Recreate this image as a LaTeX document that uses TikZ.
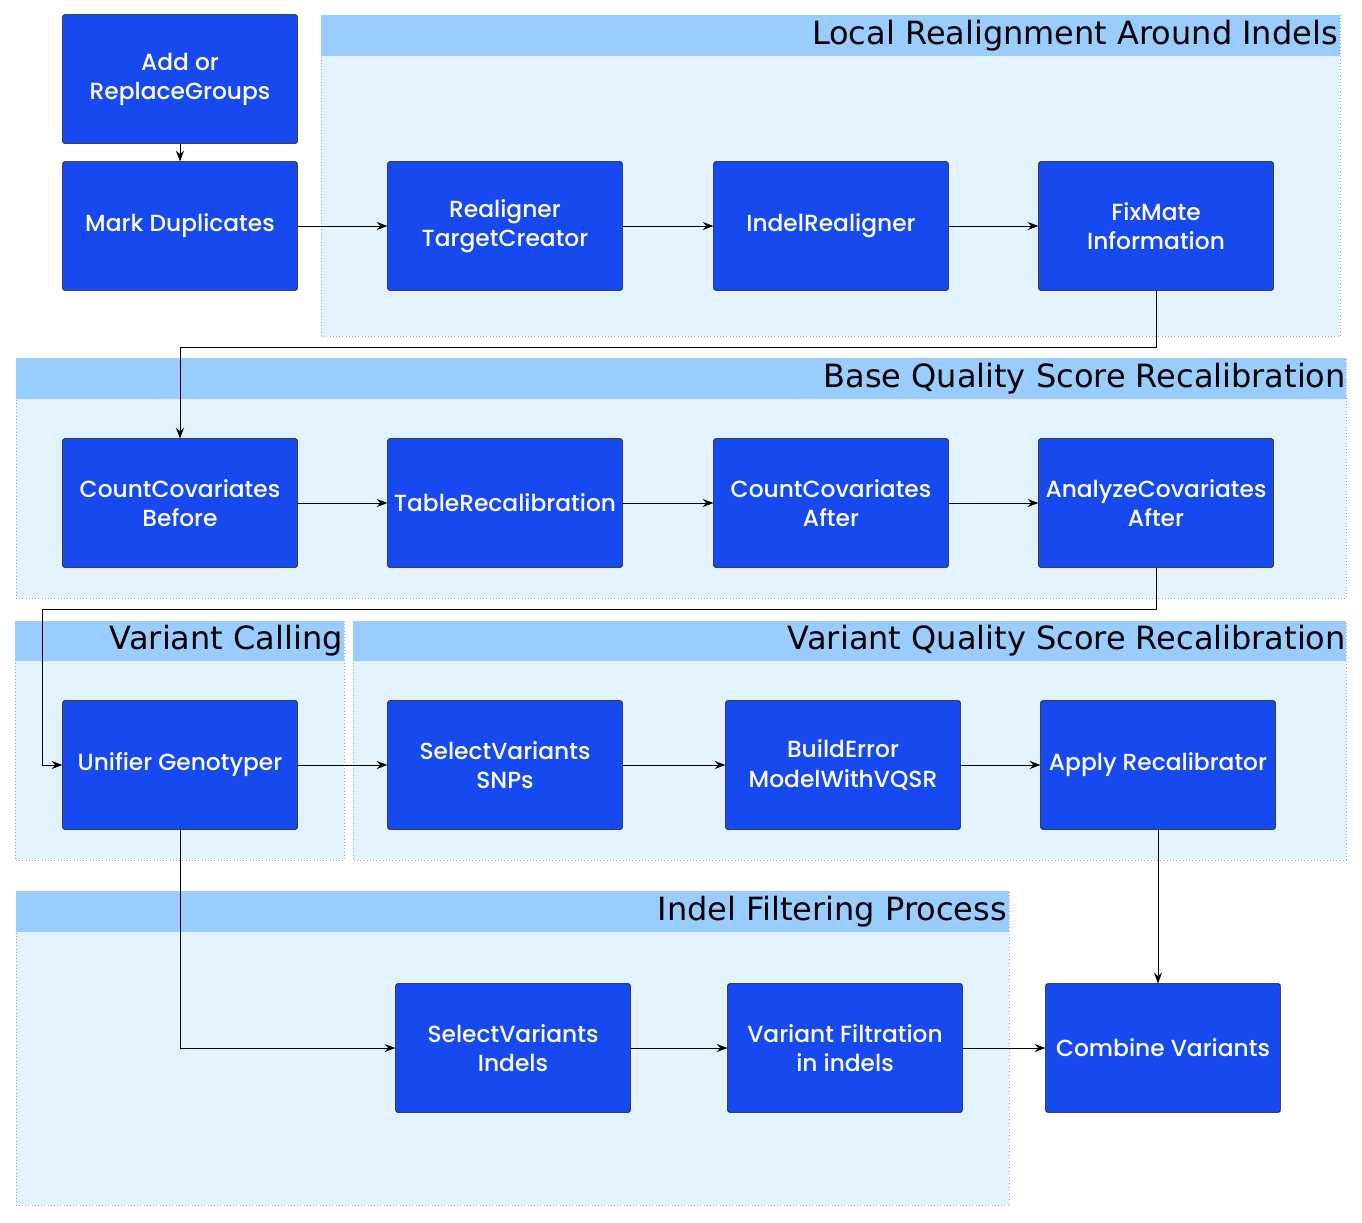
\documentclass[tikz,border=0pt]{standalone}
\usepackage{fontspec}
\setmainfont{Poppins}[BoldFont={Poppins Medium}]
\newfontfamily\titlefont{DejaVu Sans}
\usetikzlibrary{arrows.meta}
\definecolor{stepblue}{RGB}{22,73,240}
\definecolor{headblue}{RGB}{153,204,255}
\definecolor{groupblue}{RGB}{227,243,254}
\definecolor{groupline}{RGB}{150,165,200}
\begin{document}
\begin{tikzpicture}[x=0.75pt,y=-0.75pt,
    stepbox/.style={draw=black,fill=stepblue,rounded corners=1.5pt,minimum width=176pt,minimum height=96.5pt,
      text=white,align=center,font=\bfseries\fontsize{17.5}{21.8}\selectfont,inner sep=0pt},
    grp/.style={draw=groupline,dotted,fill=groupblue},
    grphead/.style={fill=headblue},
    grptitle/.style={anchor=east,inner sep=0pt,font=\titlefont\fontsize{24}{28}\selectfont},
    link/.style={-{Stealth[length=8pt,width=6pt]},line width=0.75pt}]
  \useasboundingbox (0,0) rectangle (1362,1222);
  % groups
  \draw[grp] (321,15) rectangle (1340,336);
  \fill[grphead] (321,15) rectangle (1340,56);
  \node[grptitle] (t1) at (1338,36) {Local Realignment Around Indels};
  \draw[grp] (16,358) rectangle (1346,598);
  \fill[grphead] (16,358) rectangle (1346,399);
  \node[grptitle] (t2) at (1346,379) {Base Quality Score Recalibration};
  \draw[grp] (15,621) rectangle (344,860);
  \fill[grphead] (15,621) rectangle (344,661);
  \node[grptitle] (t3) at (343,641) {Variant Calling};
  \draw[grp] (353,621) rectangle (1346,860);
  \fill[grphead] (353,621) rectangle (1346,661);
  \node[grptitle] (t4) at (1346,641) {Variant Quality Score Recalibration};
  \draw[grp] (16,891) rectangle (1009,1205);
  \fill[grphead] (16,891) rectangle (1009,932);
  \node[grptitle] (t5) at (1007,912) {Indel Filtering Process};
  % steps
  \node[stepbox] (add) at (180,79) {Add or\\ReplaceGroups};
  \node[stepbox] (mark) at (180,226) {Mark Duplicates};
  \node[stepbox] (rtc) at (505,226) {Realigner\\TargetCreator};
  \node[stepbox] (ir) at (831,226) {IndelRealigner};
  \node[stepbox] (fmi) at (1156,226) {FixMate\\Information};
  \node[stepbox] (ccb) at (180,503) {CountCovariates\\Before};
  \node[stepbox] (tr) at (505,503) {TableRecalibration};
  \node[stepbox] (cca) at (831,503) {CountCovariates\\After};
  \node[stepbox] (aca) at (1156,503) {AnalyzeCovariates\\After};
  \node[stepbox] (ug) at (180,765) {Unifier Genotyper};
  \node[stepbox] (svs) at (505,765) {SelectVariants\\SNPs};
  \node[stepbox] (bem) at (843,765) {BuildError\\ModelWithVQSR};
  \node[stepbox] (ar) at (1158,765) {Apply Recalibrator};
  \node[stepbox] (svi) at (513,1048) {SelectVariants\\Indels};
  \node[stepbox] (vf) at (845,1048) {Variant Filtration\\in indels};
  \node[stepbox] (cv) at (1163,1048) {Combine Variants};
  % links
  \draw[link] (add) -- (mark);
  \draw[link] (mark) -- (rtc);
  \draw[link] (rtc) -- (ir);
  \draw[link] (ir) -- (fmi);
  \draw[link] (fmi.south) |- (180,347) -- (ccb.north);
  \draw[link] (ccb) -- (tr);
  \draw[link] (tr) -- (cca);
  \draw[link] (cca) -- (aca);
  \draw[link] (aca.south) |- (42,609) |- (ug.west);
  \draw[link] (ug) -- (svs);
  \draw[link] (svs) -- (bem);
  \draw[link] (bem) -- (ar);
  \draw[link] (ar.south) -- (ar.south |- cv.north);
  \draw[link] (ug.south) |- (svi.west);
  \draw[link] (svi) -- (vf);
  \draw[link] (vf) -- (cv);
\end{tikzpicture}
\end{document}
